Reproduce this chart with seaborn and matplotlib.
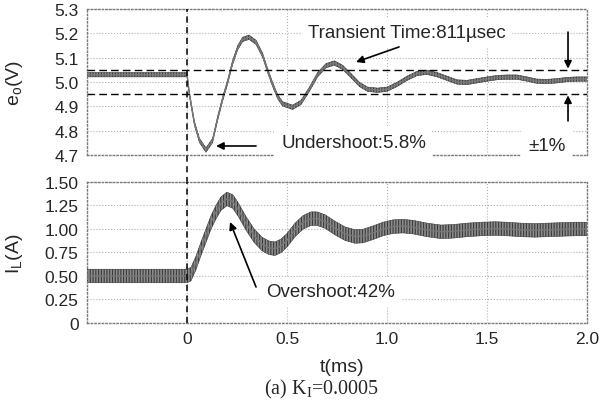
import numpy as np
import seaborn as sns
import matplotlib.pyplot as plt

sns.set_style('white')
plt.rcParams['font.family'] = ['Liberation Sans', 'DejaVu Sans']
plt.rcParams['mathtext.fontset'] = 'custom'
plt.rcParams['mathtext.rm'] = 'Liberation Sans'
plt.rcParams['mathtext.it'] = 'Liberation Sans:italic'
plt.rcParams['mathtext.sf'] = 'Liberation Serif'
plt.rcParams['hatch.color'] = '#2a2a2a'
plt.rcParams['hatch.linewidth'] = 0.8

# output voltage e_o (V), centre of the ripple band
eo_t = [-0.5, 0.0, 0.012, 0.037, 0.062, 0.095, 0.128, 0.153, 0.178, 0.203,
        0.228, 0.253, 0.278, 0.31, 0.345, 0.378, 0.403, 0.428, 0.453, 0.478,
        0.528, 0.57, 0.612, 0.653, 0.695, 0.737, 0.778, 0.82, 0.862, 0.903,
        0.953, 1.0, 1.05, 1.1, 1.15, 1.2, 1.25, 1.3, 1.35, 1.4,
        1.45, 1.5, 1.55, 1.6, 1.65, 1.7, 1.75, 1.8, 1.85, 1.9,
        1.95, 2.0]
eo_v = [5.03, 5.03, 4.95, 4.83, 4.76, 4.72, 4.76, 4.85, 4.93, 5.0,
        5.08, 5.14, 5.175, 5.184, 5.163, 5.11, 5.047, 4.99, 4.94, 4.91,
        4.896, 4.916, 4.97, 5.03, 5.067, 5.078, 5.06, 5.026, 4.99, 4.97,
        4.966, 4.97, 4.99, 5.015, 5.035, 5.04, 5.03, 5.015, 5.0, 4.998,
        5.005, 5.012, 5.018, 5.02, 5.02, 5.012, 5.003, 5.002, 5.005, 5.01,
        5.012, 5.012]
eo_ripple = 0.009

# inductor current I_L (A)
il_t = [-0.5, 0.0, 0.02, 0.045, 0.07, 0.095, 0.12, 0.145, 0.17, 0.2,
        0.23, 0.255, 0.295, 0.335, 0.375, 0.41, 0.44, 0.47, 0.5, 0.54,
        0.58, 0.62, 0.65, 0.69, 0.74, 0.79, 0.84, 0.88, 0.93, 0.98,
        1.03, 1.08, 1.13, 1.2, 1.27, 1.33, 1.4, 1.47, 1.54, 1.6,
        1.67, 1.74, 1.8, 1.87, 1.94, 2.0]
il_a = [0.5, 0.5, 0.52, 0.64, 0.79, 0.93, 1.07, 1.18, 1.27, 1.32,
        1.29, 1.21, 1.06, 0.93, 0.84, 0.8, 0.79, 0.82, 0.88, 0.99,
        1.07, 1.11, 1.11, 1.08, 1.01, 0.95, 0.92, 0.925, 0.96, 1.0,
        1.025, 1.03, 1.02, 0.99, 0.97, 0.975, 0.99, 1.0, 1.005, 1.0,
        0.99, 0.985, 0.99, 0.995, 1.0, 1.0]
il_ripple = 0.072

band_limits = [4.95, 5.05]
eo_ticks = [4.7, 4.8, 4.9, 5.0, 5.1, 5.2, 5.3]
eo_labels = ['4.7', '4.8', '4.9', '5.0', '5.1', '5.2', '5.3']
il_ticks = [0, 0.25, 0.5, 0.75, 1.0, 1.25, 1.5]
il_labels = ['0', '0.25', '0.50', '0.75', '1.00', '1.25', '1.50']
t_ticks = [0, 0.5, 1.0, 1.5, 2.0]
t_labels = ['0', '0.5', '1.0', '1.5', '2.0']

fig = plt.figure(figsize=(6.15, 4.06), dpi=100)
ax1 = fig.add_axes([0.1415, 0.6158, 0.813, 0.3596])
ax2 = fig.add_axes([0.1415, 0.202, 0.813, 0.3473])


def style(ax):
    ax.grid(True, color='#b4b4b4', linestyle=':', linewidth=0.8)
    for s in ax.spines.values():
        s.set_color('#7a7a7a')
        s.set_linestyle(':')
        s.set_linewidth(1.0)
    ax.tick_params(length=0, labelsize=12.5, pad=6)
    ax.set_xlim(-0.5, 2.0)
    ax.set_xticks(t_ticks)


def trace(ax, t, y, r):
    t = np.asarray(t)
    y = np.asarray(y)
    ax.fill_between(t, y - r, y + r, facecolor='#8c8c8c', edgecolor='#3a3a3a',
                    hatch='||||||', linewidth=0.4, zorder=2)
    sns.lineplot(x=t, y=y, ax=ax, color='#777777', linewidth=1.0,
                 estimator=None, sort=False, zorder=2.1)


style(ax1)
style(ax2)
trace(ax1, eo_t, eo_v, eo_ripple)
trace(ax2, il_t, il_a, il_ripple)

ax1.set_ylim(4.7, 5.3)
ax1.set_yticks(eo_ticks)
ax1.set_yticklabels(eo_labels)
ax1.set_xticklabels([])
ax2.set_ylim(0, 1.5)
ax2.set_yticks(il_ticks)
ax2.set_yticklabels(il_labels)
ax2.set_xticklabels(t_labels)

for lim in band_limits:
    ax1.axhline(lim, color='black', linestyle=(0, (5.5, 3)), linewidth=1.0, zorder=2.6)

ax1.axvline(0, ymin=-0.19, ymax=1, color='black', linestyle=(0, (4, 3)),
            linewidth=1.1, clip_on=False, zorder=2.6)
ax2.axvline(0, color='black', linestyle=(0, (4, 3)), linewidth=1.1, zorder=2.6)

ax1.set_ylabel(r'e$_\mathrm{o}$(V)', fontsize=14)
ax1.yaxis.set_label_coords(-0.124, 0.5)
ax2.set_ylabel(r'I$_\mathrm{L}$(A)', fontsize=14)
ax2.yaxis.set_label_coords(-0.124, 0.5)
ax2.set_xlabel('t(ms)', fontsize=14)
ax2.xaxis.set_label_coords(0.51, -0.25)

arrow = dict(arrowstyle='-|>', color='black', lw=1.2, mutation_scale=11,
             shrinkA=0, shrinkB=0)
box = dict(boxstyle='square,pad=0.35', fc='white', ec='none')


def arr(ax, tip, tail):
    ax.annotate('', xy=tip, xytext=tail, arrowprops=arrow, zorder=4)


arr(ax1, (0.845, 5.082), (1.06, 5.144))
arr(ax1, (0.145, 4.737), (0.345, 4.737))
arr(ax1, (1.905, 5.055), (1.905, 5.205))
arr(ax1, (1.905, 4.945), (1.905, 4.84))
arr(ax2, (0.215, 1.074), (0.345, 0.383))

ax1.text(0.605, 5.205, 'Transient Time:811µsec', fontsize=13.5, ha='left',
         va='center', bbox=box, zorder=3.5)
ax1.text(0.47, 4.753, 'Undershoot:5.8%', fontsize=13.5, ha='left',
         va='center', bbox=box, zorder=3.5)
ax1.text(1.705, 4.737, '±1%', fontsize=13.5, ha='left',
         va='center', bbox=box, zorder=3.5)
ax2.text(0.395, 0.33, 'Overshoot:42%', fontsize=13.5, ha='left',
         va='center', bbox=box, zorder=3.5)

fig.text(322 / 615, 1 - 389 / 406, r'(a) K$_\mathsf{I}$=0.0005', fontsize=14.5,
         family='Liberation Serif', ha='center', va='center')

fig.savefig('out.png', dpi=100)
